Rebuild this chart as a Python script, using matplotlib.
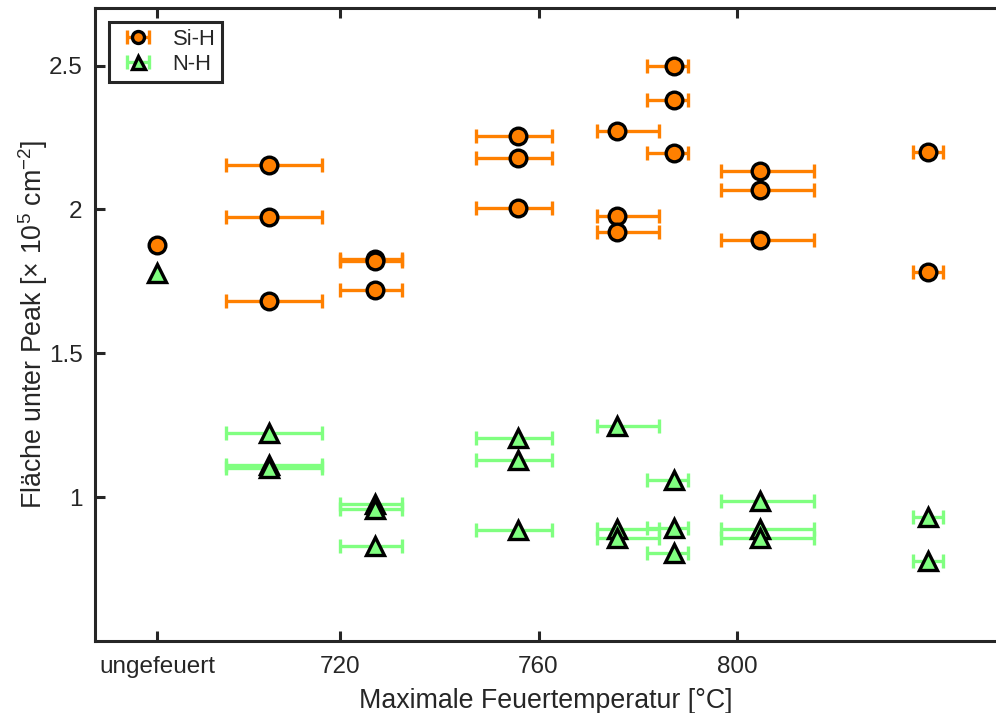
import matplotlib
matplotlib.use("Agg")
import matplotlib.pyplot as plt
import numpy as np

plt.rcParams['font.family'] = ['Liberation Sans', 'DejaVu Sans']
plt.rcParams['mathtext.fontset'] = 'custom'
plt.rcParams['mathtext.rm'] = 'Liberation Sans'
plt.rcParams['mathtext.it'] = 'Liberation Sans:italic'
plt.rcParams['mathtext.bf'] = 'Liberation Sans:bold'

# Gruppen (Feuertemperatur in °C, erste = ungefeuert)
temps = [683.1, 705.7, 727.05, 755.8, 775.9, 787.4, 804.6, 838.5]
err_lo = [0, 8.7, 7.05, 8.4, 4.15, 5.6, 7.9, 3.1]
err_hi = [0, 10.7, 5.45, 6.9, 8.4, 2.8, 11.0, 3.1]

si_h = [[1.878],
        [2.155, 1.973, 1.682],
        [1.828, 1.822, 1.719],
        [2.255, 2.177, 2.006],
        [2.272, 1.977, 1.921],
        [2.500, 2.379, 2.197],
        [2.133, 2.066, 1.894],
        [2.201, 1.782]]

n_h = [[1.778],
       [1.222, 1.112, 1.100],
       [0.977, 0.960, 0.829],
       [1.207, 1.128, 0.885],
       [1.248, 0.889, 0.858],
       [1.059, 0.893, 0.806],
       [0.985, 0.888, 0.857],
       [0.931, 0.777]]

xticks = [683.1, 720, 760, 800]
xticklabels = ['ungefeuert', '720', '760', '800']
yticks = [1, 1.5, 2, 2.5]
yticklabels = ['1', '1.5', '2', '2.5']

dark = '#262626'
orange = '#ff8000'
green = '#80ff80'

fig = plt.figure(figsize=(9.96, 7.13), dpi=100)
ax = fig.add_axes([95/996, 1-641/713, 1-95/996, (641-8)/713])

def plot_series(vals, color, marker, ms, label):
    for i in range(len(temps)):
        x = [temps[i]] * len(vals[i])
        if err_hi[i] == 0 and err_lo[i] == 0:
            ax.plot(x, vals[i], linestyle='none', marker=marker, ms=ms,
                    mfc=color, mec='black', mew=2.4, zorder=3)
        else:
            xe = [[err_lo[i]] * len(vals[i]), [err_hi[i]] * len(vals[i])]
            ax.errorbar(x, vals[i], xerr=xe, fmt=marker, ms=ms, mfc=color,
                        mec='black', mew=2.4, ecolor=color, elinewidth=2.4,
                        capsize=5.2, capthick=2.4, zorder=3,
                        label=label if i == 1 else None)

plot_series(si_h, orange, 'o', 12, 'Si-H')
plot_series(n_h, green, '^', 13, 'N-H')

ax.set_xlim(670.6, 852.2)
ax.set_ylim(0.5, 2.7)
ax.set_xticks(xticks)
ax.set_xticklabels(xticklabels)
ax.set_yticks(yticks)
ax.set_yticklabels(yticklabels)

for s in ['left', 'bottom', 'top']:
    ax.spines[s].set_linewidth(2.2)
    ax.spines[s].set_color(dark)
ax.spines['right'].set_visible(False)
ax.tick_params(direction='in', length=7, width=2.2, color=dark,
               labelsize=17.5, labelcolor=dark, top=True)
ax.tick_params(axis='x', pad=11)
ax.tick_params(axis='y', pad=9)

ax.set_xlabel('Maximale Feuertemperatur [°C]', fontsize=19.3, color=dark, labelpad=7)
ax.set_ylabel('Fläche unter Peak [× 10$^{5}$ cm$^{-2}$]', fontsize=19.3,
              color=dark, labelpad=-1)

leg = ax.legend(loc='upper left', bbox_to_anchor=(109/996, 1-22/713),
                bbox_transform=fig.transFigure, borderaxespad=0,
                fontsize=15.8, fancybox=False, framealpha=1,
                edgecolor=dark, handlelength=2.0, handletextpad=0.6,
                borderpad=0.3, labelspacing=0.2, markerscale=0.72)
leg.get_frame().set_linewidth(2.2)
for t in leg.get_texts():
    t.set_color(dark)

fig.savefig('out.png', dpi=100)
